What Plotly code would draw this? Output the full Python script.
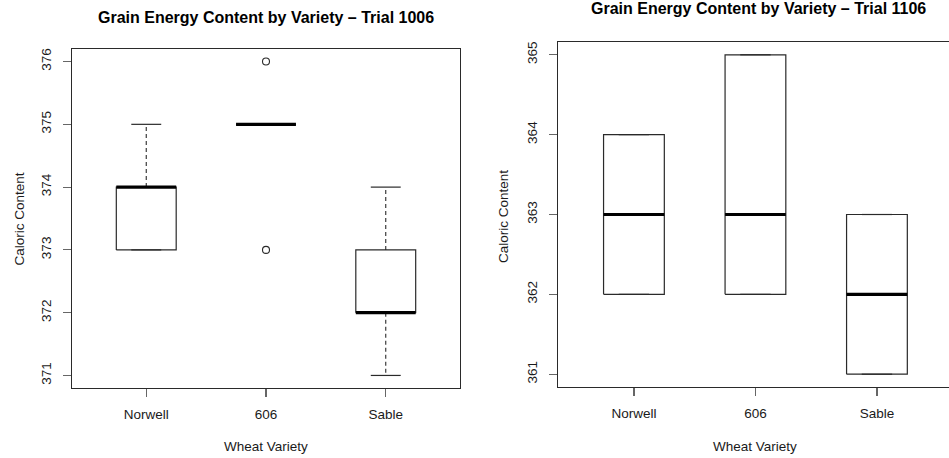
import plotly.graph_objects as go

# ---------------- data ----------------
categories = ["Norwell", "606", "Sable"]

# Trial 1006 (left panel)
t1006_q1 = [373, 375, 372]
t1006_median = [374, 375, 372]
t1006_q3 = [374, 375, 373]
t1006_lower = [373, 375, 371]
t1006_upper = [375, 375, 374]
t1006_outliers = [[], [376, 373], []]
t1006_yticks = [371, 372, 373, 374, 375, 376]

# Trial 1106 (right panel)
t1106_q1 = [362, 362, 361]
t1106_median = [363, 363, 362]
t1106_q3 = [364, 365, 363]
t1106_lower = [362, 362, 361]
t1106_upper = [364, 365, 363]
t1106_outliers = [[], [], []]
t1106_yticks = [361, 362, 363, 364, 365]

titles = ["Grain Energy Content by Variety \u2013 Trial 1006",
          "Grain Energy Content by Variety \u2013 Trial 1106"]
x_title = "Wheat Variety"
y_title = "Caloric Content"

FONT = "Liberation Sans, Arial, Helvetica, sans-serif"
LINE = "#2a2a2a"
TICKC = "#666666"
TXT = "#1a1a1a"
HALF = 0.25     # half box width (category units)
STAPLE = 0.125  # half staple width

fig = go.Figure()


def add_panel(q1, med, q3, lo, hi, outs, xa, ya):
    for i, _ in enumerate(categories):
        x = i + 1
        # box outline
        fig.add_trace(go.Scatter(
            x=[x - HALF, x + HALF, x + HALF, x - HALF, x - HALF],
            y=[q1[i], q1[i], q3[i], q3[i], q1[i]],
            mode="lines", line=dict(color=LINE, width=1.2),
            xaxis=xa, yaxis=ya, showlegend=False, hoverinfo="skip"))
        # whiskers (dashed)
        fig.add_trace(go.Scatter(
            x=[x, x, None, x, x],
            y=[q3[i], hi[i], None, q1[i], lo[i]],
            mode="lines", line=dict(color=LINE, width=1.1, dash="4px,3px"),
            xaxis=xa, yaxis=ya, showlegend=False, hoverinfo="skip"))
        # staples
        fig.add_trace(go.Scatter(
            x=[x - STAPLE, x + STAPLE, None, x - STAPLE, x + STAPLE],
            y=[hi[i], hi[i], None, lo[i], lo[i]],
            mode="lines", line=dict(color=LINE, width=1.2),
            xaxis=xa, yaxis=ya, showlegend=False, hoverinfo="skip"))
        # median
        fig.add_trace(go.Scatter(
            x=[x - HALF, x + HALF], y=[med[i], med[i]],
            mode="lines", line=dict(color="#000000", width=3.2),
            xaxis=xa, yaxis=ya, showlegend=False, hoverinfo="skip"))
        # outliers
        if outs[i]:
            fig.add_trace(go.Scatter(
                x=[x] * len(outs[i]), y=outs[i], mode="markers",
                marker=dict(symbol="circle-open", size=7,
                            color=LINE, line=dict(width=1.1)),
                xaxis=xa, yaxis=ya, showlegend=False, hoverinfo="skip"))


add_panel(t1006_q1, t1006_median, t1006_q3, t1006_lower, t1006_upper,
          t1006_outliers, "x", "y")
add_panel(t1106_q1, t1106_median, t1106_q3, t1106_lower, t1106_upper,
          t1106_outliers, "x2", "y2")

W, H = 949, 458
# pixel geometry of the two plotting regions
L = dict(x0=72, x1=460, y0=49, y1=388)
R = dict(x0=558, x1=949, y0=42, y1=387)


def xdom(p):
    return [p["x0"] / W, p["x1"] / W]


def ydom(p):
    return [1 - p["y1"] / H, 1 - p["y0"] / H]


common_x = dict(
    tickmode="array", tickvals=[1, 2, 3], ticktext=categories,
    showline=True, linecolor=LINE, linewidth=1.2, mirror=True,
    ticks="outside", ticklen=8, tickcolor=TICKC, tickwidth=1.2,
    ticklabelstandoff=6,
    showgrid=False, zeroline=False,
    tickfont=dict(family=FONT, size=13.5, color=TXT),
    fixedrange=True,
)
common_y = dict(
    showline=True, linecolor=LINE, linewidth=1.2,
    ticks="outside", ticklen=8, tickcolor=TICKC, tickwidth=1.2,
    ticklabelstandoff=6,
    showgrid=False, zeroline=False, tickangle=-90,
    tickfont=dict(family=FONT, size=13.5, color=TXT),
    fixedrange=True,
)

fig.update_layout(
    width=W, height=H,
    margin=dict(l=0, r=0, t=0, b=0),
    paper_bgcolor="white", plot_bgcolor="white",
    font=dict(family=FONT, color=TXT),
    hovermode=False,
    xaxis=dict(domain=xdom(L), range=[0.38, 3.62], anchor="y", **common_x),
    yaxis=dict(domain=ydom(L), range=[370.8, 376.2], anchor="x",
               tickvals=t1006_yticks, mirror=True, **common_y),
    xaxis2=dict(domain=xdom(R), range=[0.375, 3.593], anchor="y2", **common_x),
    yaxis2=dict(domain=ydom(R), range=[360.84, 365.16], anchor="x2",
                tickvals=t1106_yticks, mirror=False, **common_y),
)

annos = [
    dict(text="<b>" + titles[0] + "</b>", x=266 / W, y=1 - 17 / H),
    dict(text="<b>" + titles[1] + "</b>", x=758 / W, y=1 - 9 / H),
]
for a in annos:
    a.update(xref="paper", yref="paper", showarrow=False,
             xanchor="center", yanchor="middle",
             font=dict(family=FONT, size=16, color="#000000"))
    fig.add_annotation(**a)

for (xx, yy) in [(266, 446), (755, 446)]:
    fig.add_annotation(text=x_title, x=xx / W, y=1 - yy / H, xref="paper",
                       yref="paper", showarrow=False, xanchor="center",
                       yanchor="middle",
                       font=dict(family=FONT, size=13.5, color=TXT))
for (xx, yy) in [(18.5, 219), (503, 216)]:
    fig.add_annotation(text=y_title, x=xx / W, y=1 - yy / H, xref="paper",
                       yref="paper", showarrow=False, xanchor="center",
                       yanchor="middle", textangle=-90,
                       font=dict(family=FONT, size=13.5, color=TXT))

fig.write_html(
    "out.html",
    config={"displayModeBar": False, "staticPlot": True},
    post_script="document.body.style.margin='0';"
                "document.body.style.overflow='hidden';",
)
